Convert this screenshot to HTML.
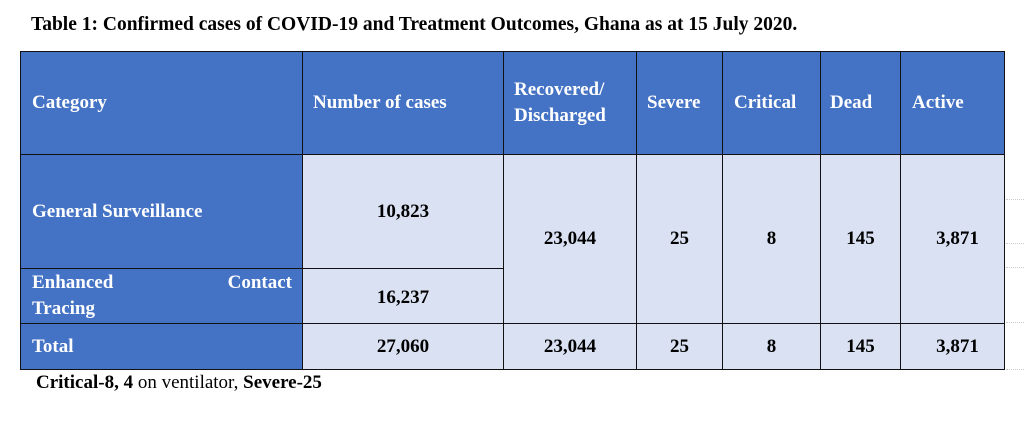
<!DOCTYPE html>
<html><head><meta charset="utf-8"><style>
body{margin:0;width:1024px;height:436px;background:#fff;position:relative;overflow:hidden;font-family:"Liberation Serif",serif;font-weight:bold}
.c{position:absolute;box-sizing:border-box;border:1.5px solid #111;display:flex;align-items:center;font-size:19px;line-height:26px}
.h{background:#4472C4;color:#fff}
.d{background:#D9E1F2;color:#000;justify-content:center}
.dot{position:absolute;left:1006px;width:18px;border-top:1px dotted #ccc}
</style></head><body>
<div style="position:absolute;left:31px;top:14px;font-size:19.5px">Table 1: Confirmed cases of COVID-19 and Treatment Outcomes, Ghana as at 15 July 2020.</div>
<div>
<div class="c h" style="left:20px;top:51px;width:283px;height:104px;padding-left:11px">Category</div>
<div class="c h" style="left:302px;top:51px;width:202px;height:104px;padding-left:10px">Number of cases</div>
<div class="c h" style="left:503px;top:51px;width:134px;height:104px;padding-left:10px">Recovered/<br>Discharged</div>
<div class="c h" style="left:636px;top:51px;width:87px;height:104px;padding-left:10px">Severe</div>
<div class="c h" style="left:722px;top:51px;width:99px;height:104px;padding-left:11px">Critical</div>
<div class="c h" style="left:820px;top:51px;width:81px;height:104px;padding-left:9px">Dead</div>
<div class="c h" style="left:900px;top:51px;width:105px;height:104px;padding-left:11px">Active</div>

<div class="c h" style="left:20px;top:154px;width:283px;height:115px;padding-left:11px">General Surveillance</div>
<div class="c d" style="left:302px;top:154px;width:202px;height:115px">10,823</div>
<div class="c h" style="left:20px;top:268px;width:283px;height:56px;padding:0 10px 0 11px;display:block;padding-top:1px"><div style="display:flex;justify-content:space-between"><span>Enhanced</span><span>Contact</span></div><div>Tracing</div></div>
<div class="c d" style="left:302px;top:268px;width:202px;height:56px;padding-top:4px">16,237</div>
<div class="c d" style="left:503px;top:154px;width:134px;height:170px">23,044</div>
<div class="c d" style="left:636px;top:154px;width:87px;height:170px">25</div>
<div class="c d" style="left:722px;top:154px;width:99px;height:170px">8</div>
<div class="c d" style="left:820px;top:154px;width:81px;height:170px">145</div>
<div class="c d" style="left:900px;top:154px;width:105px;height:170px;padding-left:10px">3,871</div>

<div class="c h" style="left:20px;top:323px;width:283px;height:47px;padding-left:11px">Total</div>
<div class="c d" style="left:302px;top:323px;width:202px;height:47px">27,060</div>
<div class="c d" style="left:503px;top:323px;width:134px;height:47px">23,044</div>
<div class="c d" style="left:636px;top:323px;width:87px;height:47px">25</div>
<div class="c d" style="left:722px;top:323px;width:99px;height:47px">8</div>
<div class="c d" style="left:820px;top:323px;width:81px;height:47px">145</div>
<div class="c d" style="left:900px;top:323px;width:105px;height:47px;padding-left:10px">3,871</div>
</div>
<div class="dot" style="top:199px"></div><div class="dot" style="top:243px"></div><div class="dot" style="top:267px"></div><div class="dot" style="top:322px"></div><div class="dot" style="top:369px"></div>
<div style="position:absolute;left:36px;top:372px;font-size:19px">Critical-8, 4 <span style="font-weight:normal">on ventilator,</span> Severe-25</div>
</body></html>
